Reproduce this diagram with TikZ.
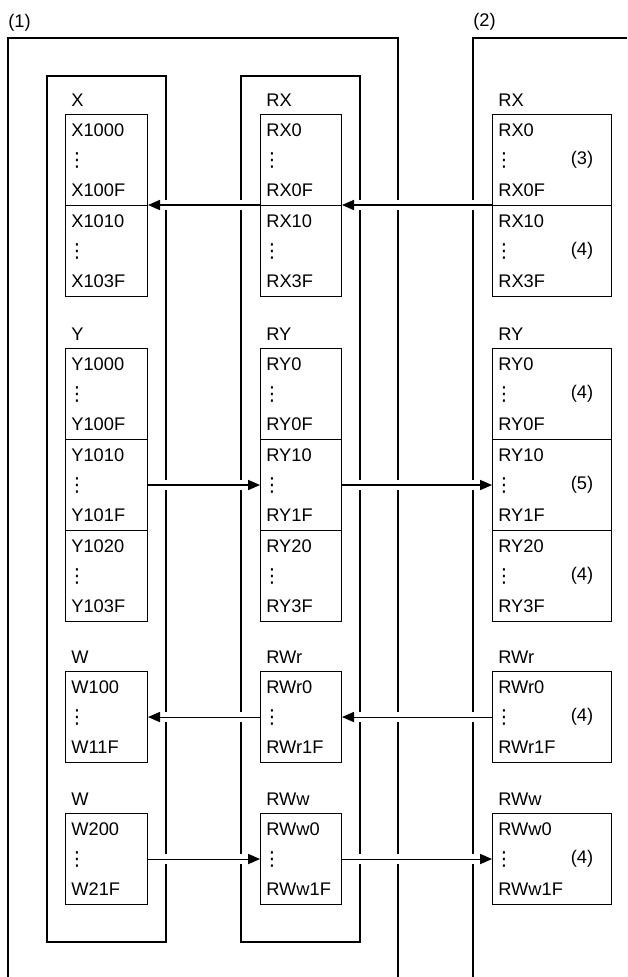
\documentclass[tikz,border=0pt]{standalone}
\usepackage{fontspec}
\setmainfont{Liberation Sans}
\newfontfamily\dotsfont{DejaVu Sans}
\usetikzlibrary{arrows.meta,calc}
\tikzset{frame/.style={line width=.6pt},
 seg/.style={draw,line width=.6pt,anchor=north west,inner sep=0pt,minimum height=1.82cm},
 reg/.style={anchor=west,inner sep=0pt},
 vdot/.style={inner sep=0pt,font=\dotsfont\fontsize{11}{11}\selectfont},
 flow/.style={-{Triangle[length=6.8pt,width=5.8pt]},line width=.6pt,
  preaction={draw=white,line width=6pt,-,shorten >=1pt,shorten <=1pt}},
 every node/.style={font=\fontsize{10.4}{12}\selectfont}}

\begin{document}
\begin{tikzpicture}[x=.02cm,y=-.02cm]
\useasboundingbox (0,0) rectangle (627,977);
\node[reg] (master) at (8,23) {(1)};
\node[reg] (slave) at (473,22) {(2)};
\draw[frame] (8,977) -- (8,38) -- (398,38) -- (398,977);
\draw[frame] (473,977) -- (473,38) -- (627,38);
\draw[frame] (47,76) rectangle (166,942);
\draw[frame] (241,76) rectangle (360,942);
\foreach \gx/\gy/\gname/\gid in {
71/100/X/gx,266/100/RX/grx,498/100/RX/gsx,
71/334/Y/gy,266/334/RY/gry,498/334/RY/gsy,
71/657/W/gwa,266/657/RWr/grwr,498/657/RWr/gswr,
71/799/W/gwb,266/799/RWw/grww,498/799/RWw/gsww}
 \node[reg] (\gid) at (\gx,\gy) {\gname};
\foreach \segname/\segx/\segw/\segy/\lo/\hi in {
xa/65/82/114/X1000/X100F,xb/65/82/205/X1010/X103F,
rxa/260/81/114/RX0/RX0F,rxb/260/81/205/RX10/RX3F,
sxa/492/119/114/RX0/RX0F,sxb/492/119/205/RX10/RX3F,
ya/65/82/348/Y1000/Y100F,yb/65/82/439/Y1010/Y101F,yc/65/82/530/Y1020/Y103F,
rya/260/81/348/RY0/RY0F,ryb/260/81/439/RY10/RY1F,ryc/260/81/530/RY20/RY3F,
sya/492/119/348/RY0/RY0F,syb/492/119/439/RY10/RY1F,syc/492/119/530/RY20/RY3F,
wa/65/82/671/W100/W11F,rwr/260/81/671/RWr0/RWr1F,swr/492/119/671/RWr0/RWr1F,
wb/65/82/813/W200/W21F,rww/260/81/813/RWw0/RWw1F,sww/492/119/813/RWw0/RWw1F} {
\node[seg,minimum width=\segw*0.02cm] (\segname) at (\segx,\segy) {};
\node[reg] (\segname-lo) at (\segx+6,\segy+16) {\lo};
\node[vdot] (\segname-dots) at (\segx+12,\segy+46) {⋮};
\node[reg] (\segname-hi) at (\segx+6,\segy+76) {\hi};
}
\foreach \segname/\tag in {sxa/3,sxb/4,sya/4,syb/5,syc/4,swr/4,sww/4}
 \node (\segname-tag) at ($(\segname.center)+(30,0)$) {(\tag)};
\draw[flow] (sxb.north west) -- (rxb.north east);
\draw[flow] (rxb.north west) -- (xb.north east);
\draw[flow] (yb.east) -- (ryb.west);
\draw[flow] (ryb.east) -- (syb.west);
\draw[flow] (swr.west) -- (rwr.east);
\draw[flow] (rwr.west) -- (wa.east);
\draw[flow] (wb.east) -- (rww.west);
\draw[flow] (rww.east) -- (sww.west);
\end{tikzpicture}
\end{document}
